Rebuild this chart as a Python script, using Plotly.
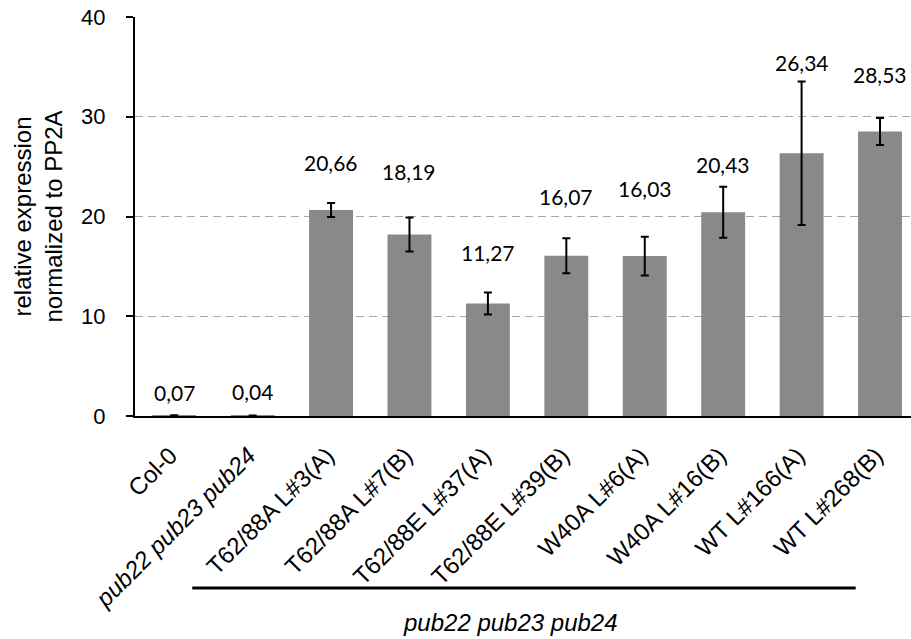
import plotly.graph_objects as go

# Relative expression of the transgene, normalized to PP2A
categories = [
    "Col-0", "<i>pub22 pub23 pub24</i>", "T62/88A L#3(A)", "T62/88A L#7(B)",
    "T62/88E L#37(A)", "T62/88E L#39(B)", "W40A L#6(A)", "W40A L#16(B)",
    "WT L#166(A)", "WT L#268(B)",
]
means = [0.07, 0.04, 20.66, 18.19, 11.27, 16.07, 16.03, 20.43, 26.34, 28.53]
errors = [None, None, 0.7, 1.7, 1.1, 1.75, 1.95, 2.55, 7.2, 1.35]
value_labels = ["0,07", "0,04", "20,66", "18,19", "11,27", "16,07", "16,03",
                "20,43", "26,34", "28,53"]
y_ticks = [0, 10, 20, 30, 40]

# vertical offset (px) of each value label above its error bar
label_shift = [23, 24, 40, 46, 40, 42, 48, 22, 19, 43]

ARIAL = "Liberation Sans, Arial, sans-serif"
x = list(range(len(categories)))

fig = go.Figure()
fig.add_trace(go.Bar(
    x=x, y=means,
    marker=dict(color="#898989", line=dict(width=0)),
    error_y=dict(type="data", array=[e if e is not None else 0 for e in errors],
                 visible=True, color="black", thickness=2, width=4),
    showlegend=False,
))

for i, (m, e, lab, sh) in enumerate(zip(means, errors, value_labels, label_shift)):
    top = m + (e or 0)
    fig.add_annotation(x=i, y=top, text=lab, showarrow=False, yanchor="middle",
                       yshift=sh, font=dict(family="Lato, Open Sans, sans-serif",
                                            size=21, color="black"))

# bracket under the transgenic lines
fig.add_shape(type="line", xref="x", yref="paper", x0=0.23, x1=8.69,
              y0=-0.431, y1=-0.431, line=dict(color="black", width=3))
fig.add_annotation(xref="x", yref="paper", x=4.29, y=-0.518,
                   xanchor="center", yanchor="middle",
                   text="<i>pub22 pub23 pub24</i>", showarrow=False,
                   font=dict(family=ARIAL, size=24, color="black"))

fig.update_layout(
    width=911, height=639,
    margin=dict(l=135, r=0, t=17, b=223),
    paper_bgcolor="white", plot_bgcolor="white",
    bargap=0.44,
    font=dict(family=ARIAL, size=23, color="black"),
)
fig.update_xaxes(
    tickmode="array", tickvals=x, ticktext=categories, tickangle=-45,
    range=[-0.5, 9.395], showline=True, linecolor="black", linewidth=2,
    ticks="", showgrid=False, zeroline=False,
    ticklabelstandoff=14, ticklabelshift=-4,
    tickfont=dict(size=24),
)
fig.update_yaxes(
    range=[0, 40], tickvals=y_ticks, showline=True, linecolor="black",
    linewidth=2, ticks="outside", ticklen=7, tickwidth=2, tickcolor="black",
    showgrid=True, gridcolor="#a6a6a6", griddash="8px,5px", gridwidth=1.2,
    zeroline=False, tickfont=dict(size=22), ticklabelstandoff=16,
    title=dict(text="relative expression<br>normalized to PP2A",
               font=dict(size=24), standoff=12),
)

fig.write_html("out.html")
